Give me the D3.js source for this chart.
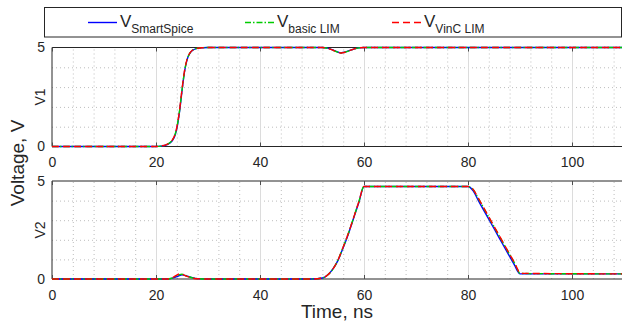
<!DOCTYPE html>
<html lang="en">
<head>
<meta charset="UTF-8" />
<title>V1 / V2 transient</title>
<script src="https://d3js.org/d3.v7.min.js"></script>
<style>
  body { margin: 0; background: #fff; }
  svg { display: block; font-family: "Liberation Sans", Arial, Helvetica, sans-serif; }
  .tick text { fill: #262626; font-size: 14px; }
  .domain { display: none; }
</style>
</head>
<body>
<svg id="chart" width="622" height="324"></svg>
<script>
// time axis ticks
const xTicks = [0, 20, 40, 60, 80, 100];
const yTicks = [0, 5];

// V1 trace
const v1Time  = [0, 20, 21, 22, 23, 23.5, 24, 24.5, 25, 25.5, 26, 26.5, 27, 28, 29, 30, 52, 53, 54, 55, 55.5, 56, 57, 58, 59, 60, 110];
const v1Spice = [0, 0, 0.02, 0.08, 0.25, 0.45, 0.9, 1.7, 2.8, 3.8, 4.4, 4.7, 4.85, 4.96, 4.99, 5, 5, 4.97, 4.88, 4.77, 4.73, 4.75, 4.83, 4.92, 4.98, 5, 5];
const v1Basic = [0, 0, 0.02, 0.09, 0.27, 0.48, 0.95, 1.75, 2.85, 3.82, 4.42, 4.71, 4.86, 4.96, 4.99, 5, 5, 4.96, 4.87, 4.76, 4.72, 4.74, 4.82, 4.92, 4.98, 5, 5];
const v1VinC  = [0, 0, 0.03, 0.1, 0.28, 0.5, 0.97, 1.78, 2.88, 3.85, 4.43, 4.72, 4.86, 4.96, 4.99, 5, 5, 4.96, 4.87, 4.76, 4.72, 4.74, 4.82, 4.92, 4.98, 5, 5];

// V2 trace
const v2Time  = [0, 22, 23, 24, 24.5, 25, 26, 27, 28, 30, 50, 52, 53, 54, 55, 56, 57, 58, 59, 60, 80, 80.5, 81, 82, 84, 86, 88, 89, 89.5, 90, 110];
const v2Spice = [0, 0, 0.03, 0.12, 0.17, 0.21, 0.15, 0.07, 0.02, 0, 0, 0.05, 0.2, 0.5, 0.95, 1.6, 2.3, 3.1, 3.9, 4.72, 4.72, 4.65, 4.5, 4.0, 3.05, 2.1, 1.15, 0.68, 0.42, 0.26, 0.26];
const v2Basic = [0, 0, 0.04, 0.16, 0.22, 0.24, 0.14, 0.06, 0.02, 0, 0, 0.05, 0.2, 0.5, 0.97, 1.63, 2.33, 3.13, 3.93, 4.72, 4.72, 4.68, 4.56, 4.1, 3.15, 2.2, 1.25, 0.78, 0.5, 0.28, 0.26];
const v2VinC  = [0, 0, 0.05, 0.2, 0.26, 0.24, 0.13, 0.05, 0.01, 0, 0, 0.05, 0.2, 0.5, 0.97, 1.63, 2.33, 3.13, 3.93, 4.72, 4.72, 4.68, 4.57, 4.12, 3.17, 2.22, 1.27, 0.8, 0.52, 0.29, 0.26];

const seriesNames = ["SmartSpice", "basic LIM", "VinC LIM"];
const seriesColors = ["#0000ff", "#00cc00", "#ff0000"];
const seriesDash = [null, "6,2,1.5,2", "7,4"];

const svg = d3.select("#chart");
const x = d3.scaleLinear().domain([0, 110]).range([52, 624]);

const panels = [
  { label: "V1", top: 47.5, bottom: 146.5, time: v1Time, vals: [v1Spice, v1Basic, v1VinC] },
  { label: "V2", top: 181, bottom: 279, time: v2Time, vals: [v2Spice, v2Basic, v2VinC] }
];

panels.forEach(p => {
  const y = d3.scaleLinear().domain([0, 5]).range([p.bottom, p.top]);
  const g = svg.append("g");

  // minor grid (dotted)
  const minorX = d3.range(4, 110, 4).filter(d => d % 20 !== 0);
  g.append("g")
    .attr("transform", `translate(0,${p.bottom})`)
    .call(d3.axisBottom(x).tickValues(minorX).tickSize(-(p.bottom - p.top)).tickFormat(""))
    .selectAll("line").attr("stroke", "#bdbdbd").attr("stroke-dasharray", "1,3");
  g.append("g")
    .attr("transform", `translate(${x(0)},0)`)
    .call(d3.axisLeft(y).tickValues([1, 2, 3, 4]).tickSize(-(x(110) - x(0))).tickFormat(""))
    .selectAll("line").attr("stroke", "#bdbdbd").attr("stroke-dasharray", "1,3");

  // major grid
  g.append("g")
    .attr("transform", `translate(0,${p.bottom})`)
    .call(d3.axisBottom(x).tickValues(xTicks.slice(1)).tickSize(-(p.bottom - p.top)).tickFormat(""))
    .selectAll("line").attr("stroke", "#dcdcdc");

  // frame
  g.append("line").attr("x1", x(0)).attr("x2", 622).attr("y1", p.top).attr("y2", p.top).attr("stroke", "#262626");
  g.append("line").attr("x1", x(0)).attr("x2", 622).attr("y1", p.bottom).attr("y2", p.bottom).attr("stroke", "#262626");
  g.append("line").attr("x1", x(0)).attr("x2", x(0)).attr("y1", p.top).attr("y2", p.bottom).attr("stroke", "#262626");

  // axes with inward ticks
  const xb = g.append("g").attr("transform", `translate(0,${p.bottom})`)
    .call(d3.axisBottom(x).tickValues(xTicks).tickSizeInner(-4).tickSizeOuter(0).tickPadding(11));
  xb.selectAll("line").attr("stroke", "#4d4d4d");
  const xt = g.append("g").attr("transform", `translate(0,${p.top})`)
    .call(d3.axisTop(x).tickValues(xTicks).tickSizeInner(-4).tickSizeOuter(0).tickFormat(""));
  xt.selectAll("line").attr("stroke", "#4d4d4d");
  g.append("g").attr("transform", `translate(${x(0)},0)`)
    .call(d3.axisLeft(y).tickValues(yTicks).tickFormat(d3.format("d")).tickSize(0).tickPadding(7));

  g.append("text")
    .attr("transform", `translate(45,${(p.top + p.bottom) / 2}) rotate(-90)`)
    .attr("text-anchor", "middle").attr("font-size", 14).attr("fill", "#262626")
    .text(p.label);

  // traces
  const clipId = "clip" + p.label;
  svg.append("clipPath").attr("id", clipId).append("rect")
    .attr("x", x(0)).attr("y", p.top - 3).attr("width", x(110) - x(0)).attr("height", p.bottom - p.top + 6);
  p.vals.forEach((vals, i) => {
    const line = d3.line().x((d, k) => x(p.time[k])).y(d => y(d)).curve(d3.curveMonotoneX);
    g.append("path")
      .attr("clip-path", `url(#${clipId})`)
      .attr("d", line(vals))
      .attr("fill", "none")
      .attr("stroke", seriesColors[i])
      .attr("stroke-width", 1.4)
      .attr("stroke-dasharray", seriesDash[i]);
  });
});

svg.append("text")
  .attr("transform", "translate(24,163) rotate(-90)")
  .attr("text-anchor", "middle").attr("font-size", 19).attr("fill", "#262626")
  .text("Voltage, V");

svg.append("text")
  .attr("x", 337).attr("y", 318)
  .attr("text-anchor", "middle").attr("font-size", 19).attr("fill", "#262626")
  .text("Time, ns");

// legend
const lg = svg.append("g");
lg.append("rect").attr("x", 44.5).attr("y", 7.5).attr("width", 577).attr("height", 29.5)
  .attr("fill", "#fff").attr("stroke", "#262626");
const legendX = [88, 245, 392];
seriesNames.forEach((name, i) => {
  const lx = legendX[i];
  lg.append("line").attr("x1", lx).attr("x2", lx + 29).attr("y1", 22.5).attr("y2", 22.5)
    .attr("stroke", seriesColors[i]).attr("stroke-width", 1.4).attr("stroke-dasharray", seriesDash[i]);
  const t = lg.append("text").attr("x", lx + 32).attr("y", 26.5).attr("fill", "#262626").attr("font-size", 17);
  t.append("tspan").text("V");
  t.append("tspan").attr("dy", 6).attr("font-size", 12).text(name);
});
</script>
</body>
</html>
